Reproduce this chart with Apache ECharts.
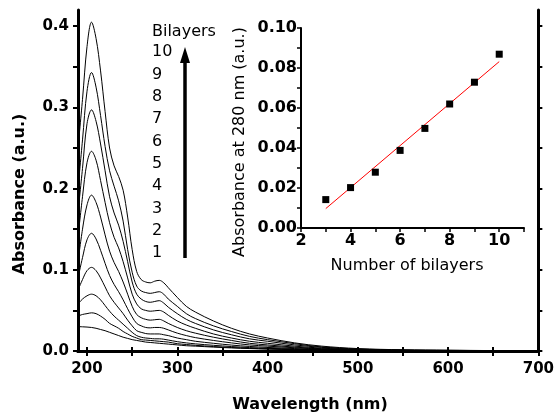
<!DOCTYPE html>
<html>
<head>
<meta charset="utf-8">
<script src="https://cdn.jsdelivr.net/npm/echarts@6/dist/echarts.min.js"></script>
<style>html,body{margin:0;padding:0;background:#fff}#c{width:557px;height:414px}</style>
</head>
<body>
<div id="c"></div>
<script>
// ---- data ----
const wavelengths = [190,195,200,205,210,215,220,225,230,235,240,245,250,255,260,265,270,275,280,285,290,300,310,320,340,360,380,400,430,460,500,550,600,650,700];
const abs10 = [0.25,0.31,0.375,0.405,0.385,0.345,0.295,0.25,0.228,0.215,0.198,0.165,0.125,0.098,0.088,0.085,0.084,0.086,0.087,0.084,0.078,0.066,0.055,0.048,0.037,0.028,0.021,0.016,0.010,0.006,0.003,0.0015,0.001,0.0005,0];
const abs9  = [0.20,0.26,0.32,0.343,0.325,0.29,0.252,0.222,0.203,0.185,0.16,0.125,0.097,0.08,0.074,0.072,0.071,0.072,0.073,0.07,0.064,0.055,0.046,0.040,0.031,0.024,0.018,0.014,0.009,0.005,0.0025,0.0012,0.0008,0.0004,0];
const abs8  = [0.17,0.225,0.28,0.297,0.283,0.255,0.222,0.19,0.17,0.155,0.135,0.11,0.085,0.07,0.064,0.061,0.06,0.061,0.062,0.059,0.054,0.046,0.039,0.034,0.026,0.020,0.015,0.012,0.0075,0.0045,0.002,0.001,0.0006,0.0003,0];
const abs7  = [0.14,0.19,0.232,0.246,0.235,0.21,0.183,0.158,0.14,0.127,0.11,0.09,0.07,0.058,0.052,0.05,0.049,0.0495,0.05,0.048,0.044,0.037,0.032,0.028,0.021,0.016,0.012,0.0095,0.006,0.0035,0.0017,0.0008,0.0005,0.0002,0];
const abs6  = [0.11,0.15,0.18,0.192,0.183,0.165,0.143,0.123,0.109,0.098,0.085,0.07,0.055,0.045,0.041,0.039,0.038,0.0385,0.039,0.037,0.034,0.029,0.025,0.022,0.017,0.013,0.0095,0.0075,0.0048,0.0028,0.0014,0.0007,0.0004,0.0002,0];
const abs5  = [0.09,0.115,0.137,0.145,0.138,0.124,0.108,0.093,0.082,0.073,0.063,0.052,0.042,0.034,0.031,0.029,0.0285,0.029,0.029,0.028,0.026,0.022,0.019,0.0165,0.013,0.010,0.0075,0.006,0.004,0.0024,0.0012,0.0006,0.0003,0.0002,0];
const abs4  = [0.075,0.088,0.099,0.103,0.099,0.09,0.079,0.068,0.06,0.053,0.046,0.038,0.031,0.025,0.023,0.0215,0.021,0.021,0.021,0.02,0.019,0.016,0.014,0.012,0.0095,0.0073,0.0056,0.0044,0.003,0.0018,0.0009,0.0005,0.0003,0.0001,0];
const abs3  = [0.058,0.064,0.068,0.070,0.068,0.063,0.056,0.049,0.043,0.038,0.033,0.028,0.023,0.019,0.017,0.016,0.0155,0.015,0.015,0.0145,0.0135,0.0115,0.010,0.0088,0.007,0.0055,0.0042,0.0033,0.0023,0.0014,0.0007,0.0004,0.0002,0.0001,0];
const abs2  = [0.043,0.045,0.046,0.047,0.046,0.043,0.039,0.034,0.031,0.028,0.024,0.021,0.018,0.016,0.014,0.0135,0.013,0.0125,0.012,0.0115,0.011,0.009,0.008,0.007,0.0055,0.0043,0.0033,0.0026,0.0018,0.0011,0.0006,0.0003,0.0002,0.0001,0];
const abs1  = [0.030,0.0298,0.0295,0.029,0.028,0.0265,0.025,0.023,0.021,0.019,0.017,0.0155,0.014,0.013,0.012,0.011,0.0105,0.01,0.0095,0.009,0.0085,0.0075,0.0065,0.006,0.0048,0.0038,0.003,0.0024,0.0016,0.001,0.0005,0.0003,0.0001,0,0];
const spectra = [abs1,abs2,abs3,abs4,abs5,abs6,abs7,abs8,abs9,abs10];

const bilayerLabels = ['1','2','3','4','5','6','7','8','9','10'];

const insetBilayers = [3,4,5,6,7,8,9,10];
const insetAbs280 = [0.0142,0.0202,0.0279,0.0388,0.0498,0.062,0.0729,0.0869];
const fitX = [3,10];
const fitY = [0.0097,0.0832];

const mainXLabels = [200,300,400,500,600,700];
const mainXTicks = [200,250,300,350,400,450,500,550,600,650,700];
const mainYLabels = [0,0.1,0.2,0.3,0.4];
const mainYTicks = [0,0.05,0.1,0.15,0.2,0.25,0.3,0.35,0.4];
const insetXLabels = [2,4,6,8,10];
const insetXTicks = [2,3,4,5,6,7,8,9,10,11];
const insetYLabels = [0,0.02,0.04,0.06,0.08,0.10];
const insetYTicks = [0,0.01,0.02,0.03,0.04,0.05,0.06,0.07,0.08,0.09,0.10];

// ---- chart ----
const FB = 'DejaVu Sans';
const chart = echarts.init(document.getElementById('c'), null, {renderer:'canvas'});

const mainAxisLine = {lineStyle:{color:'#000', width:3}};
const series = spectra.map((arr, i) => ({
  type:'line', name:bilayerLabels[i], xAxisIndex:0, yAxisIndex:0,
  data: wavelengths.map((w, j) => [w, arr[j]]),
  showSymbol:false, smooth:0.35,
  lineStyle:{color:'#000', width:1}, z:3, silent:true
}));
series.push({
  type:'line', name:'fit', xAxisIndex:2, yAxisIndex:2,
  data: fitX.map((x,i)=>[x, fitY[i]]), showSymbol:false,
  lineStyle:{color:'#ff0000', width:1}, silent:true
});
series.push({
  type:'scatter', name:'A280', xAxisIndex:2, yAxisIndex:2,
  data: insetBilayers.map((x,i)=>[x, insetAbs280[i]]),
  symbol:'rect', symbolSize:7, itemStyle:{color:'#000', opacity:1}, silent:true, z:4
});

// Bilayers labels positions (annotation)
const labelGraphics = [{type:'text', left:152, top:24, style:{text:'Bilayers', font:'16px "DejaVu Sans"', fill:'#000'}}];
bilayerLabels.forEach((t, i) => {
  labelGraphics.push({type:'text', left:152, top:254 - i*22.3 - 9, style:{text:t, font:'16px "DejaVu Sans"', fill:'#000'}});
});

const option = {
  animation:false,
  backgroundColor:'#fff',
  grid:[
    {left:78, top:10, right:16, bottom:63},
    {left:301, top:28, right:33, bottom:186}
  ],
  xAxis:[
    {type:'value', gridIndex:0, min:190, max:700, position:'bottom',
     axisLine:mainAxisLine, splitLine:{show:false},
     axisTick:{show:true, inside:false, length:5, lineStyle:{width:2,color:'#000'}, customValues:mainXTicks},
     axisLabel:{customValues:mainXLabels, margin:11, color:'#000', fontFamily:FB, fontWeight:'bold', fontSize:15}},
    {type:'value', gridIndex:0, min:190, max:700, position:'top',
     axisLine:mainAxisLine, splitLine:{show:false},
     axisTick:{show:true, inside:false, length:4, lineStyle:{width:2,color:'#000'}, customValues:mainXTicks},
     axisLabel:{show:false}},
    {type:'value', gridIndex:1, min:2, max:11, position:'bottom',
     axisLine:{lineStyle:{color:'#000', width:2}}, splitLine:{show:false},
     axisTick:{show:true, inside:false, length:4, lineStyle:{width:1.5,color:'#000'}, customValues:insetXTicks},
     axisLabel:{customValues:insetXLabels, margin:5, color:'#000', fontFamily:FB, fontWeight:'bold', fontSize:16}}
  ],
  yAxis:[
    {type:'value', gridIndex:0, min:0, max:0.42, position:'left',
     axisLine:mainAxisLine, splitLine:{show:false},
     axisTick:{show:true, inside:false, length:5, lineStyle:{width:2,color:'#000'}, customValues:mainYTicks},
     axisLabel:{customValues:mainYLabels, margin:9, color:'#000', fontFamily:FB, fontWeight:'bold', fontSize:15,
       formatter:v=>Number(v).toFixed(1)}},
    {type:'value', gridIndex:0, min:0, max:0.42, position:'right',
     axisLine:mainAxisLine, splitLine:{show:false},
     axisTick:{show:true, inside:false, length:4, lineStyle:{width:2,color:'#000'}, customValues:mainYTicks},
     axisLabel:{show:false}},
    {type:'value', gridIndex:1, min:0, max:0.10, position:'left',
     axisLine:{show:true, lineStyle:{color:'#000', width:2}}, splitLine:{show:false},
     axisTick:{show:true, inside:false, length:4, lineStyle:{width:1.5,color:'#000'}, customValues:insetYTicks},
     axisLabel:{customValues:insetYLabels, margin:4, color:'#000', fontFamily:FB, fontWeight:'bold', fontSize:16,
       formatter:v=>Number(v).toFixed(2)}}
  ],
  series: series,
  graphic:[
    {type:'text', x:20, y:194, rotation:Math.PI/2, style:{text:'Absorbance (a.u.)', font:'bold 16px "DejaVu Sans"', fill:'#000', align:'center', verticalAlign:'middle'}},
    {type:'text', x:310, y:405, style:{text:'Wavelength (nm)', font:'bold 16px "DejaVu Sans"', fill:'#000', align:'center', verticalAlign:'middle'}},
    {type:'text', x:240, y:142, rotation:Math.PI/2, style:{text:'Absorbance at 280 nm (a.u.)', font:'16px "DejaVu Sans"', fill:'#000', align:'center', verticalAlign:'middle'}},
    {type:'text', x:407, y:266, style:{text:'Number of bilayers', font:'16px "DejaVu Sans"', fill:'#000', align:'center', verticalAlign:'middle'}},
    {type:'line', shape:{x1:185, y1:258, x2:185, y2:60}, style:{stroke:'#000', lineWidth:3.5}},
    {type:'polygon', shape:{points:[[185,47],[180,63],[190,63]]}, style:{fill:'#000'}}
  ].concat(labelGraphics)
};
chart.setOption(option);
</script>
</body>
</html>
